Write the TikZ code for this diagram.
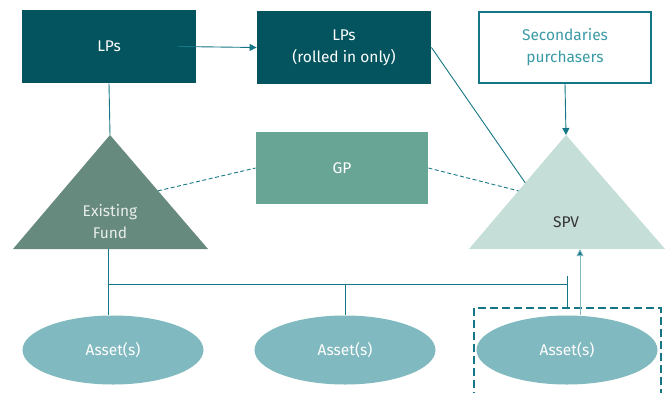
\documentclass[tikz,border=0pt]{standalone}
\usepackage{fontspec}
\setmainfont{Fira Sans}
\usetikzlibrary{shapes.geometric,arrows.meta,calc}
\definecolor{lpteal}{HTML}{04545F}
\definecolor{gpgreen}{HTML}{69A595}
\definecolor{fundgreen}{HTML}{678A7E}
\definecolor{spvpale}{HTML}{C5DED7}
\definecolor{assetblue}{HTML}{80B9BF}
\definecolor{linkteal}{HTML}{157785}
\definecolor{buyerteal}{HTML}{3A9BA6}

\begin{document}
\begin{tikzpicture}[x=1pt, y=-1pt, line width=0.9pt,
    font=\fontsize{15.5}{22}\selectfont,
    lp box/.style={fill=lpteal, text=white, minimum width=174pt, minimum height=73pt, align=center, inner sep=0},
    buyer box/.style={fill=white, draw=linkteal, line width=1.2pt, text=buyerteal, minimum width=172pt, minimum height=71pt, align=center, inner sep=0},
    gp box/.style={fill=gpgreen, text=white, minimum width=172pt, minimum height=72pt, inner sep=0},
    asset/.style={ellipse, fill=assetblue, text=white, minimum width=181pt, minimum height=69pt, inner sep=0},
    conn/.style={draw=linkteal},
    conn arrow/.style={draw=linkteal, -{Triangle[length=7pt, width=7pt]}},
    gp link/.style={draw=linkteal, dash pattern=on 4pt off 2.5pt},
    spv frame/.style={draw=linkteal, line width=1.1pt, dash pattern=on 8pt off 4pt}
  ]
  \useasboundingbox (0,0) rectangle (667,392);

  \node [lp box] (lps) at (109,46.5) {LPs};
  \node [lp box] (rolled) at (344,47.5) {LPs\\(rolled in only)};
  \node [buyer box] (buyers) at (565,47.5) {Secondaries\\purchasers};
  \node [gp box] (gp) at (342,168) {GP};

  \coordinate (fund top) at (110,135);
  \coordinate (fund left) at (13,249);
  \coordinate (fund right) at (208,249);
  \path [fill=fundgreen] (fund top) -- (fund left) -- (fund right) -- cycle;
  \node [align=center, text=white!85!fundgreen] (fund) at (110,222) {Existing\\Fund};

  \coordinate (spv top) at (566,135);
  \coordinate (spv left) at (469,249);
  \coordinate (spv right) at (665,249);
  \path [fill=spvpale] (spv top) -- (spv left) -- (spv right) -- cycle;
  \node [text=black!80] (spv) at (566,222) {SPV};

  \node [asset] (asset1) at (113,350) {Asset(s)};
  \node [asset] (asset2) at (345,350) {Asset(s)};
  \node [asset] (asset3) at (567,350) {Asset(s)};

  \draw [spv frame] (474,400) -- (474,308) -- (661,308) -- (661,400);

  \draw [conn arrow] ([xshift=-18pt]lps.east) -- (rolled.west);
  \draw [conn] (lps.south) -- (fund top);
  \draw [conn] (rolled.east) -- ($(spv top)!0.42!(spv left)$);
  \draw [conn arrow] (buyers.south) -- (spv top);

  \draw [gp link] ($(fund top)!0.49!(fund right)$) -- (gp.west);
  \draw [gp link] (gp.east) -- ($(spv top)!0.49!(spv left)$);

  \coordinate (bar left) at (108,284);
  \coordinate (bar right) at (567,284);
  \draw [conn] (108,249) -- (bar left) -- (bar right);
  \draw [conn] (bar left) -- (bar left |- asset1.north);
  \draw [conn] (asset2.north |- bar left) -- (asset2.north);
  \draw [conn] (567,276) -- (567,308);
  \draw [draw=assetblue, -{Triangle[length=7pt, width=7pt, fill=linkteal]}] ([xshift=13pt]asset3.north) -- ([xshift=13pt]asset3.north |- spv left);
\end{tikzpicture}
\end{document}
